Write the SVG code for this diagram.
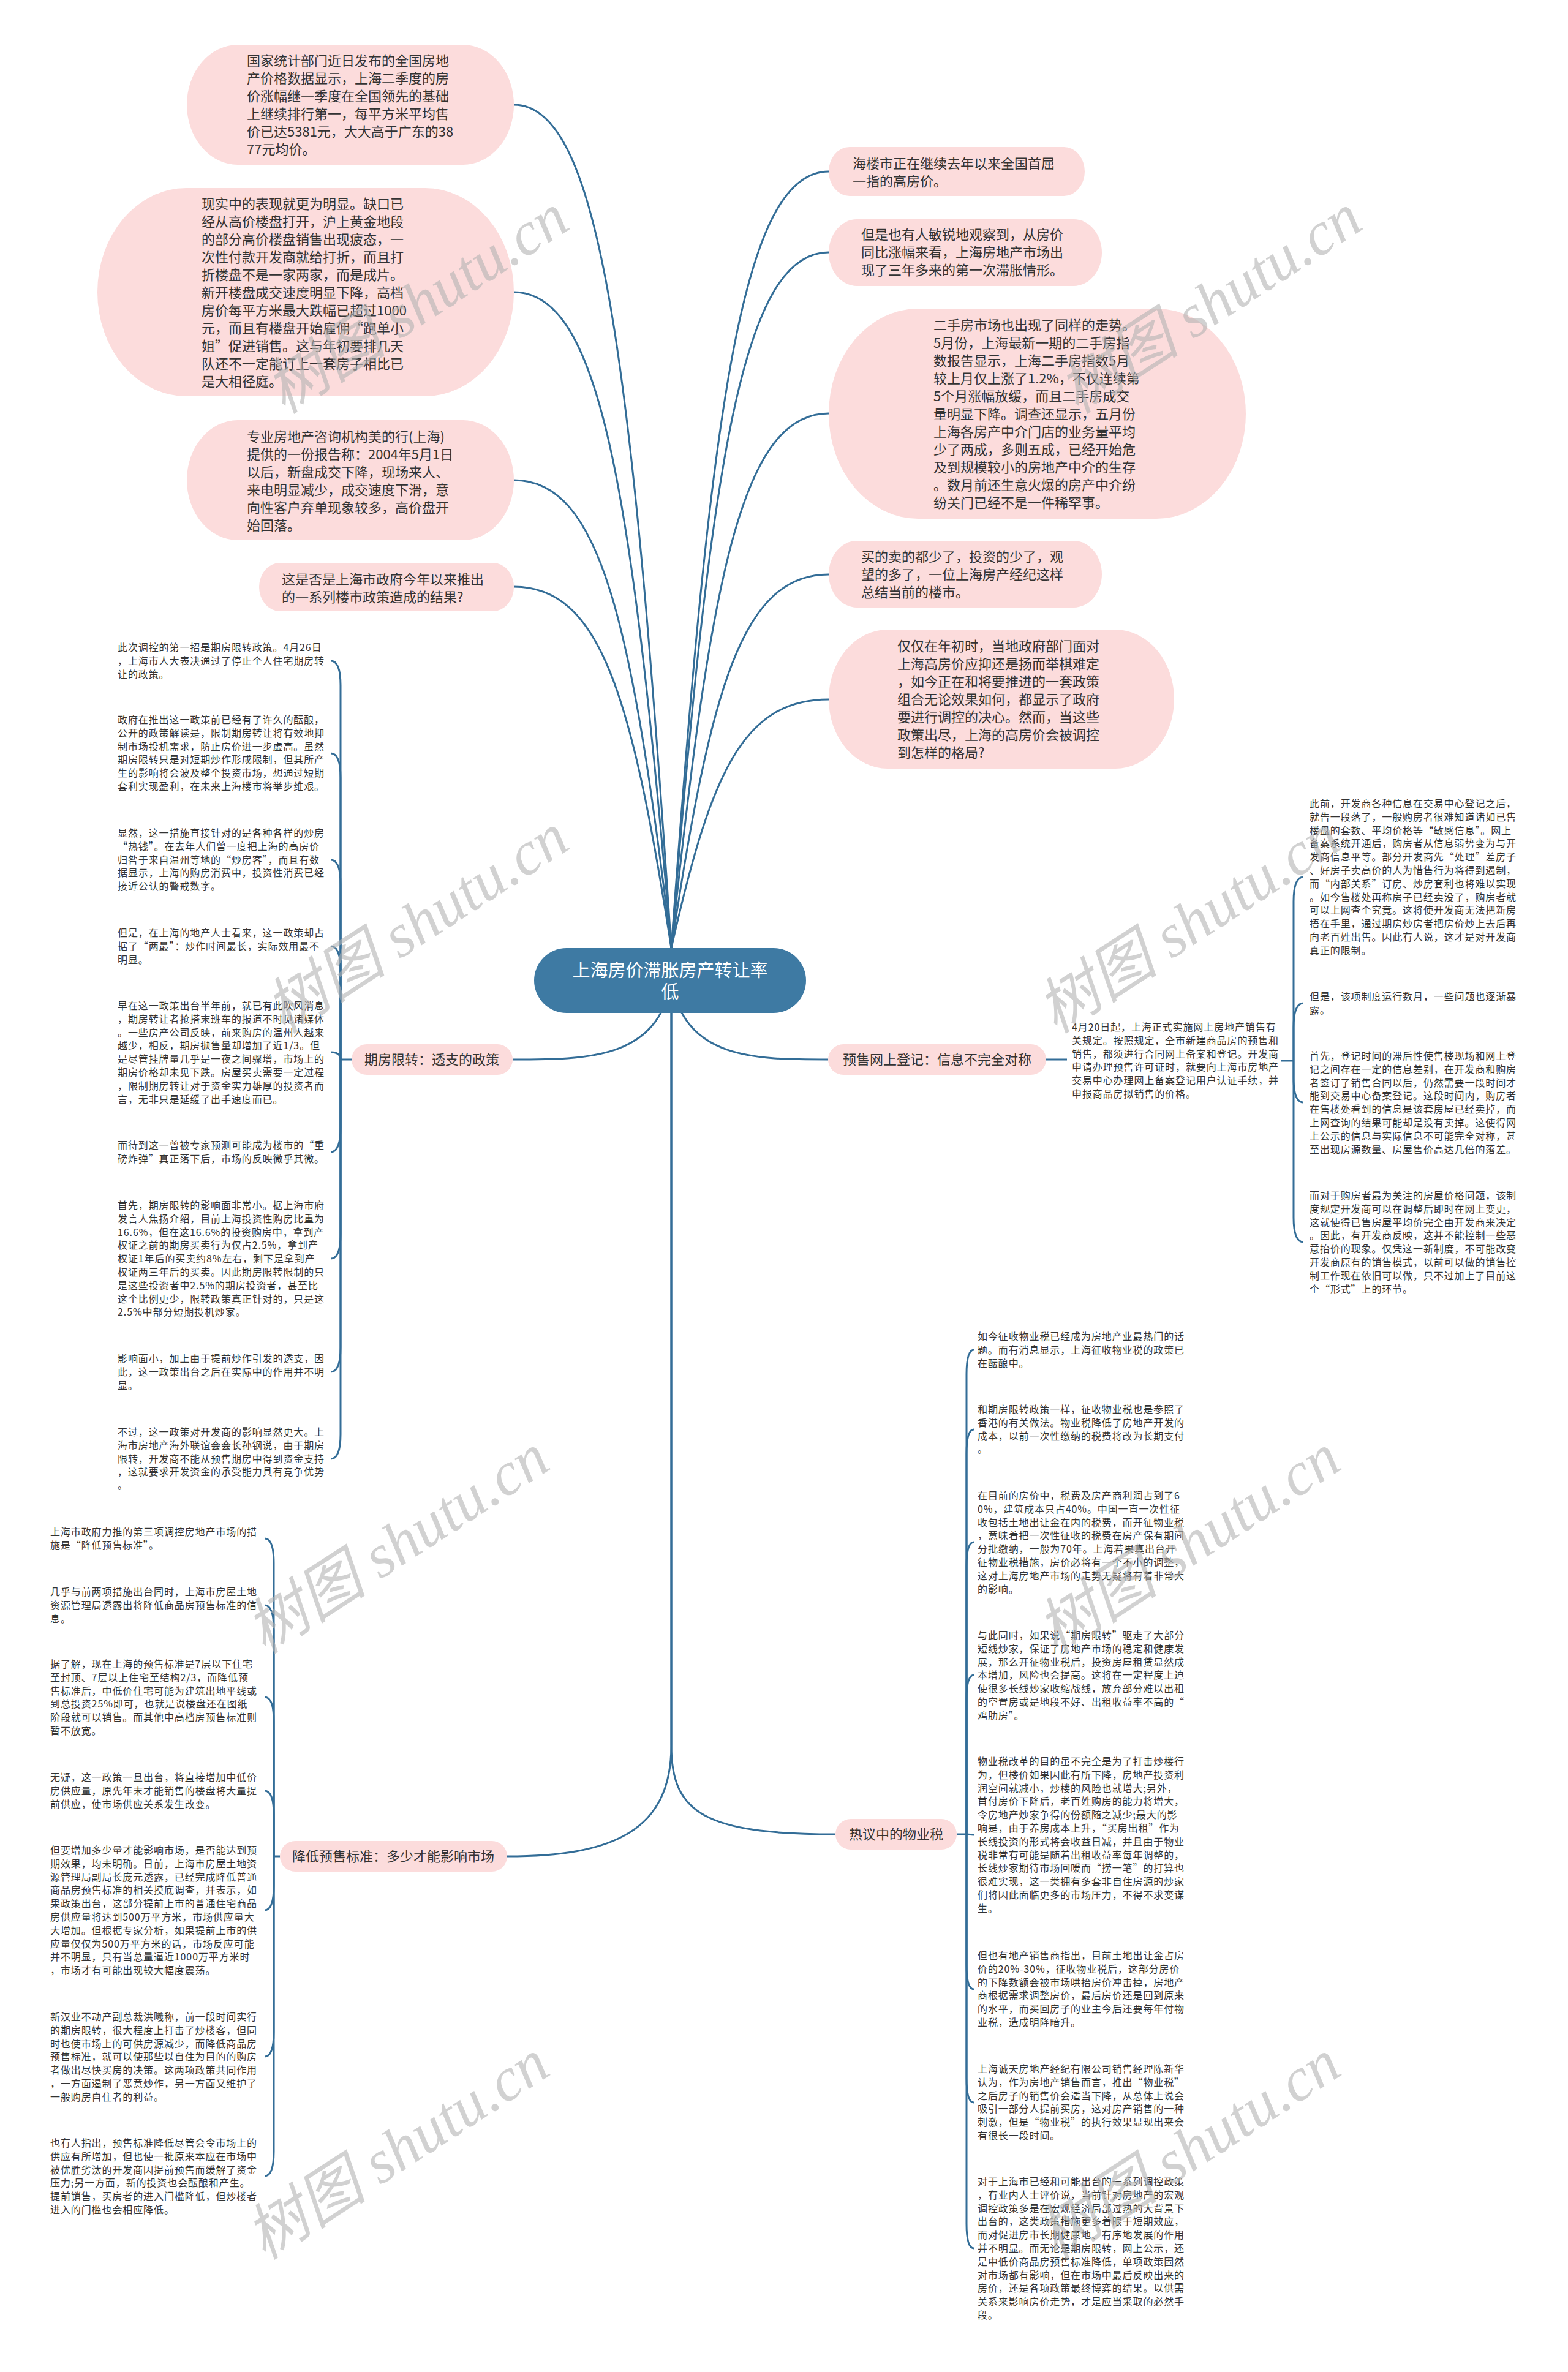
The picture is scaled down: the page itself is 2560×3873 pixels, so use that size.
<svg xmlns="http://www.w3.org/2000/svg" width="2560" height="3873" viewBox="0 0 2560 3873">
<style>
.bub{fill:#fcdcdc}
.t22{font-family:"Noto Sans CJK SC","Noto Sans",sans-serif;font-size:22px;fill:#333}
.t16{font-family:"Noto Sans CJK SC","Noto Sans",sans-serif;font-size:16px;letter-spacing:0.9px;fill:#333}
.lt{font-family:"Noto Sans CJK SC","Noto Sans",sans-serif;font-size:22px;fill:#333;text-anchor:middle}
.conn{fill:none;stroke:#336d97;stroke-width:3}
.wm{font-family:"Liberation Serif","Noto Sans CJK SC",serif;font-style:italic;font-size:100px;fill:#b4b4b4;opacity:0.6}
</style>
<rect width="2560" height="3873" fill="#ffffff"/>
<g id="connectors">
<path class="conn" d="M839,171 C980,171 1032,584 1096,1548"/>
<path class="conn" d="M839,477 C980,477 1032,798 1096,1548"/>
<path class="conn" d="M839,784 C980,784 1032,1013 1096,1548"/>
<path class="conn" d="M839,958 C980,958 1032,1135 1096,1548"/>
<path class="conn" d="M1353,280 C1212,280 1160,660 1096,1548"/>
<path class="conn" d="M1353,412 C1212,412 1160,753 1096,1548"/>
<path class="conn" d="M1353,675 C1212,675 1160,937 1096,1548"/>
<path class="conn" d="M1353,938 C1212,938 1160,1121 1096,1548"/>
<path class="conn" d="M1353,1142 C1212,1142 1160,1264 1096,1548"/>
<path class="conn" d="M1096,1601 C1075,1730 960,1730 837,1730"/>
<path class="conn" d="M1096,1601 C1117,1730 1232,1730 1352,1730"/>
<path class="conn" d="M1096,1601 L1096,2850 C1096,2960 1150,2995 1364,2995"/>
<path class="conn" d="M1096,1601 L1096,2850 C1096,2990 1000,3031 828,3031"/>
<path class="conn" d="M574,1730 L556,1730"/>
<path class="conn" d="M556,1730 L556,1119 Q556,1079 540,1079"/>
<path class="conn" d="M556,1730 L556,1270 Q556,1230 540,1230"/>
<path class="conn" d="M556,1730 L556,1444 Q556,1404 540,1404"/>
<path class="conn" d="M556,1730 L556,1585 Q556,1545 540,1545"/>
<path class="conn" d="M556,1730 Q556,1718 540,1718"/>
<path class="conn" d="M556,1730 L556,1841 Q556,1881 540,1881"/>
<path class="conn" d="M556,1730 L556,2015 Q556,2055 540,2055"/>
<path class="conn" d="M556,1730 L556,2200 Q556,2240 540,2240"/>
<path class="conn" d="M556,1730 L556,2342 Q556,2382 540,2382"/>
<path class="conn" d="M1708,1730 L1742,1730"/>
<path class="conn" d="M2092,1732 L2112,1732"/>
<path class="conn" d="M2112,1732 L2112,1472 Q2112,1432 2128,1432"/>
<path class="conn" d="M2112,1732 L2112,1678 Q2112,1638 2128,1638"/>
<path class="conn" d="M2112,1732 L2112,1760 Q2112,1800 2128,1800"/>
<path class="conn" d="M2112,1732 L2112,1988 Q2112,2028 2128,2028"/>
<path class="conn" d="M1562,2995 L1578,2995"/>
<path class="conn" d="M1578,2995 L1578,2244 Q1578,2204 1590,2204"/>
<path class="conn" d="M1578,2995 L1578,2374 Q1578,2334 1590,2334"/>
<path class="conn" d="M1578,2995 L1578,2558 Q1578,2518 1590,2518"/>
<path class="conn" d="M1578,2995 L1578,2775 Q1578,2735 1590,2735"/>
<path class="conn" d="M1578,2995 L1590,2996"/>
<path class="conn" d="M1578,2995 L1578,3208 Q1578,3248 1590,3248"/>
<path class="conn" d="M1578,2995 L1578,3393 Q1578,3433 1590,3433"/>
<path class="conn" d="M1578,2995 L1578,3631 Q1578,3671 1590,3671"/>
<path class="conn" d="M457,3031 L447,3031"/>
<path class="conn" d="M447,3031 L447,2552 Q447,2512 432,2512"/>
<path class="conn" d="M447,3031 L447,2661 Q447,2621 432,2621"/>
<path class="conn" d="M447,3031 L447,2811 Q447,2771 432,2771"/>
<path class="conn" d="M447,3031 L447,2964 Q447,2924 432,2924"/>
<path class="conn" d="M447,3031 L447,3079 Q447,3119 432,3119"/>
<path class="conn" d="M447,3031 L447,3318 Q447,3358 432,3358"/>
<path class="conn" d="M447,3031 L447,3513 Q447,3553 432,3553"/>
</g>
<g id="center">
<rect x="872" y="1548" width="444" height="106" rx="53" ry="53" fill="#3e7aa3"/>
<text x="1094" y="1595" font-family="Noto Sans CJK SC,sans-serif" font-size="29" fill="#ffffff" text-anchor="middle">上海房价滞胀房产转让率</text>
<text x="1094" y="1630" font-family="Noto Sans CJK SC,sans-serif" font-size="29" fill="#ffffff" text-anchor="middle">低</text>
</g>
<g id="b1"><rect class="bub" x="305" y="73" width="534" height="196" rx="83" ry="98"/>
<text class="t22" y="107"><tspan x="403">国家统计部门近日发布的全国房地</tspan><tspan x="403" dy="29">产价格数据显示，上海二季度的房</tspan><tspan x="403" dy="29">价涨幅继一季度在全国领先的基础</tspan><tspan x="403" dy="29">上继续排行第一，每平方米平均售</tspan><tspan x="403" dy="29">价已达5381元，大大高于广东的38</tspan><tspan x="403" dy="29">77元均价。</tspan></text></g>
<g id="b2"><rect class="bub" x="159" y="307" width="680" height="340" rx="145" ry="170"/>
<text class="t22" y="341"><tspan x="329">现实中的表现就更为明显。缺口已</tspan><tspan x="329" dy="29">经从高价楼盘打开，沪上黄金地段</tspan><tspan x="329" dy="29">的部分高价楼盘销售出现疲态，一</tspan><tspan x="329" dy="29">次性付款开发商就给打折，而且打</tspan><tspan x="329" dy="29">折楼盘不是一家两家，而是成片。</tspan><tspan x="329" dy="29">新开楼盘成交速度明显下降，高档</tspan><tspan x="329" dy="29">房价每平方米最大跌幅已超过1000</tspan><tspan x="329" dy="29">元，而且有楼盘开始雇佣“跑单小</tspan><tspan x="329" dy="29">姐”促进销售。这与年初要排几天</tspan><tspan x="329" dy="29">队还不一定能订上一套房子相比已</tspan><tspan x="329" dy="29">是大相径庭。</tspan></text></g>
<g id="b3"><rect class="bub" x="305" y="686" width="534" height="196" rx="83" ry="98"/>
<text class="t22" y="721"><tspan x="403">专业房地产咨询机构美的行(上海)</tspan><tspan x="403" dy="29">提供的一份报告称：2004年5月1日</tspan><tspan x="403" dy="29">以后，新盘成交下降，现场来人、</tspan><tspan x="403" dy="29">来电明显减少，成交速度下滑，意</tspan><tspan x="403" dy="29">向性客户弃单现象较多，高价盘开</tspan><tspan x="403" dy="29">始回落。</tspan></text></g>
<g id="b4"><rect class="bub" x="423" y="919" width="416" height="79" rx="34" ry="39.5"/>
<text class="t22" y="954"><tspan x="460">这是否是上海市政府今年以来推出</tspan><tspan x="460" dy="29">的一系列楼市政策造成的结果?</tspan></text></g>
<g id="r1"><rect class="bub" x="1353" y="240" width="418" height="80" rx="34" ry="40"/>
<text class="t22" y="275"><tspan x="1392">海楼市正在继续去年以来全国首屈</tspan><tspan x="1392" dy="29">一指的高房价。</tspan></text></g>
<g id="r2"><rect class="bub" x="1353" y="358" width="446" height="109" rx="46" ry="54.5"/>
<text class="t22" y="391"><tspan x="1406">但是也有人敏锐地观察到，从房价</tspan><tspan x="1406" dy="29">同比涨幅来看，上海房地产市场出</tspan><tspan x="1406" dy="29">现了三年多来的第一次滞胀情形。</tspan></text></g>
<g id="r3"><rect class="bub" x="1353" y="504" width="681" height="343" rx="146" ry="171.5"/>
<text class="t22" y="539"><tspan x="1524">二手房市场也出现了同样的走势。</tspan><tspan x="1524" dy="29">5月份，上海最新一期的二手房指</tspan><tspan x="1524" dy="29">数报告显示，上海二手房指数5月</tspan><tspan x="1524" dy="29">较上月仅上涨了1.2%，不仅连续第</tspan><tspan x="1524" dy="29">5个月涨幅放缓，而且二手房成交</tspan><tspan x="1524" dy="29">量明显下降。调查还显示，五月份</tspan><tspan x="1524" dy="29">上海各房产中介门店的业务量平均</tspan><tspan x="1524" dy="29">少了两成，多则五成，已经开始危</tspan><tspan x="1524" dy="29">及到规模较小的房地产中介的生存</tspan><tspan x="1524" dy="29">。数月前还生意火爆的房产中介纷</tspan><tspan x="1524" dy="29">纷关门已经不是一件稀罕事。</tspan></text></g>
<g id="r4"><rect class="bub" x="1353" y="883" width="446" height="109" rx="46" ry="54.5"/>
<text class="t22" y="917"><tspan x="1406">买的卖的都少了，投资的少了，观</tspan><tspan x="1406" dy="29">望的多了，一位上海房产经纪这样</tspan><tspan x="1406" dy="29">总结当前的楼市。</tspan></text></g>
<g id="r5"><rect class="bub" x="1353" y="1028" width="564" height="227" rx="96" ry="113.5"/>
<text class="t22" y="1063"><tspan x="1465">仅仅在年初时，当地政府部门面对</tspan><tspan x="1465" dy="29">上海高房价应抑还是扬而举棋难定</tspan><tspan x="1465" dy="29">，如今正在和将要推进的一套政策</tspan><tspan x="1465" dy="29">组合无论效果如何，都显示了政府</tspan><tspan x="1465" dy="29">要进行调控的决心。然而，当这些</tspan><tspan x="1465" dy="29">政策出尽，上海的高房价会被调控</tspan><tspan x="1465" dy="29">到怎样的格局?</tspan></text></g>
<g id="label-qifang"><rect class="bub" x="574" y="1705" width="263" height="50" rx="25"/>
<text class="lt" x="705" y="1738">期房限转：透支的政策</text></g>
<g id="label-yushou"><rect class="bub" x="1352" y="1705" width="356" height="50" rx="25"/>
<text class="lt" x="1530" y="1738">预售网上登记：信息不完全对称</text></g>
<g id="label-wuye"><rect class="bub" x="1364" y="2970" width="198" height="50" rx="25"/>
<text class="lt" x="1463" y="3003">热议中的物业税</text></g>
<g id="label-jiangdi"><rect class="bub" x="457" y="3006" width="371" height="50" rx="25"/>
<text class="lt" x="642" y="3039">降低预售标准：多少才能影响市场</text></g>
<g id="q1"><text class="t16" y="1063"><tspan x="192">此次调控的第一招是期房限转政策。4月26日</tspan><tspan x="192" dy="21.8">，上海市人大表决通过了停止个人住宅期房转</tspan><tspan x="192" dy="21.8">让的政策。</tspan></text></g>
<g id="q2"><text class="t16" y="1181"><tspan x="192">政府在推出这一政策前已经有了许久的酝酿，</tspan><tspan x="192" dy="21.8">公开的政策解读是，限制期房转让将有效地抑</tspan><tspan x="192" dy="21.8">制市场投机需求，防止房价进一步虚高。虽然</tspan><tspan x="192" dy="21.8">期房限转只是对短期炒作形成限制，但其所产</tspan><tspan x="192" dy="21.8">生的影响将会波及整个投资市场，想通过短期</tspan><tspan x="192" dy="21.8">套利实现盈利，在未来上海楼市将举步维艰。</tspan></text></g>
<g id="q3"><text class="t16" y="1366"><tspan x="192">显然，这一措施直接针对的是各种各样的炒房</tspan><tspan x="192" dy="21.8">“热钱”。在去年人们曾一度把上海的高房价</tspan><tspan x="192" dy="21.8">归咎于来自温州等地的“炒房客”，而且有数</tspan><tspan x="192" dy="21.8">据显示，上海的购房消费中，投资性消费已经</tspan><tspan x="192" dy="21.8">接近公认的警戒数字。</tspan></text></g>
<g id="q4"><text class="t16" y="1529"><tspan x="192">但是，在上海的地产人士看来，这一政策却占</tspan><tspan x="192" dy="21.8">据了“两最”：炒作时间最长，实际效用最不</tspan><tspan x="192" dy="21.8">明显。</tspan></text></g>
<g id="q5"><text class="t16" y="1648"><tspan x="192">早在这一政策出台半年前，就已有此吹风消息</tspan><tspan x="192" dy="21.8">，期房转让者抢搭末班车的报道不时见诸媒体</tspan><tspan x="192" dy="21.8">。一些房产公司反映，前来购房的温州人越来</tspan><tspan x="192" dy="21.8">越少，相反，期房抛售量却增加了近1/3。但</tspan><tspan x="192" dy="21.8">是尽管挂牌量几乎是一夜之间骤增，市场上的</tspan><tspan x="192" dy="21.8">期房价格却未见下跌。房屋买卖需要一定过程</tspan><tspan x="192" dy="21.8">，限制期房转让对于资金实力雄厚的投资者而</tspan><tspan x="192" dy="21.8">言，无非只是延缓了出手速度而已。</tspan></text></g>
<g id="q6"><text class="t16" y="1876"><tspan x="192">而待到这一曾被专家预测可能成为楼市的“重</tspan><tspan x="192" dy="21.8">磅炸弹”真正落下后，市场的反映微乎其微。</tspan></text></g>
<g id="q7"><text class="t16" y="1974"><tspan x="192">首先，期房限转的影响面非常小。据上海市府</tspan><tspan x="192" dy="21.8">发言人焦扬介绍，目前上海投资性购房比重为</tspan><tspan x="192" dy="21.8">16.6%，但在这16.6%的投资购房中，拿到产</tspan><tspan x="192" dy="21.8">权证之前的期房买卖行为仅占2.5%，拿到产</tspan><tspan x="192" dy="21.8">权证1年后的买卖约8%左右，剩下是拿到产</tspan><tspan x="192" dy="21.8">权证两三年后的买卖。因此期房限转限制的只</tspan><tspan x="192" dy="21.8">是这些投资者中2.5%的期房投资者，甚至比</tspan><tspan x="192" dy="21.8">这个比例更少，限转政策真正针对的，只是这</tspan><tspan x="192" dy="21.8">2.5%中部分短期投机炒家。</tspan></text></g>
<g id="q8"><text class="t16" y="2224"><tspan x="192">影响面小，加上由于提前炒作引发的透支，因</tspan><tspan x="192" dy="21.8">此，这一政策出台之后在实际中的作用并不明</tspan><tspan x="192" dy="21.8">显。</tspan></text></g>
<g id="q9"><text class="t16" y="2344"><tspan x="192">不过，这一政策对开发商的影响显然更大。上</tspan><tspan x="192" dy="21.8">海市房地产海外联谊会会长孙钢说，由于期房</tspan><tspan x="192" dy="21.8">限转，开发商不能从预售期房中得到资金支持</tspan><tspan x="192" dy="21.8">，这就要求开发资金的承受能力具有竞争优势</tspan><tspan x="192" dy="21.8">。</tspan></text></g>
<g id="y0"><text class="t16" y="1683"><tspan x="1750">4月20日起，上海正式实施网上房地产销售有</tspan><tspan x="1750" dy="21.8">关规定。按照规定，全市新建商品房的预售和</tspan><tspan x="1750" dy="21.8">销售，都须进行合同网上备案和登记。开发商</tspan><tspan x="1750" dy="21.8">申请办理预售许可证时，就要向上海市房地产</tspan><tspan x="1750" dy="21.8">交易中心办理网上备案登记用户认证手续，并</tspan><tspan x="1750" dy="21.8">申报商品房拟销售的价格。</tspan></text></g>
<g id="y1"><text class="t16" y="1318"><tspan x="2138">此前，开发商各种信息在交易中心登记之后，</tspan><tspan x="2138" dy="21.8">就告一段落了，一般购房者很难知道诸如已售</tspan><tspan x="2138" dy="21.8">楼盘的套数、平均价格等“敏感信息”。网上</tspan><tspan x="2138" dy="21.8">备案系统开通后，购房者从信息弱势变为与开</tspan><tspan x="2138" dy="21.8">发商信息平等。部分开发商先“处理”差房子</tspan><tspan x="2138" dy="21.8">、好房子卖高价的人为惜售行为将得到遏制，</tspan><tspan x="2138" dy="21.8">而“内部关系”订房、炒房套利也将难以实现</tspan><tspan x="2138" dy="21.8">。如今售楼处再称房子已经卖没了，购房者就</tspan><tspan x="2138" dy="21.8">可以上网查个究竟。这将使开发商无法把新房</tspan><tspan x="2138" dy="21.8">捂在手里，通过期房炒房者把房价炒上去后再</tspan><tspan x="2138" dy="21.8">向老百姓出售。因此有人说，这才是对开发商</tspan><tspan x="2138" dy="21.8">真正的限制。</tspan></text></g>
<g id="y2"><text class="t16" y="1633"><tspan x="2138">但是，该项制度运行数月，一些问题也逐渐暴</tspan><tspan x="2138" dy="21.8">露。</tspan></text></g>
<g id="y3"><text class="t16" y="1730"><tspan x="2138">首先，登记时间的滞后性使售楼现场和网上登</tspan><tspan x="2138" dy="21.8">记之间存在一定的信息差别，在开发商和购房</tspan><tspan x="2138" dy="21.8">者签订了销售合同以后，仍然需要一段时间才</tspan><tspan x="2138" dy="21.8">能到交易中心备案登记。这段时间内，购房者</tspan><tspan x="2138" dy="21.8">在售楼处看到的信息是该套房屋已经卖掉，而</tspan><tspan x="2138" dy="21.8">上网查询的结果可能却是没有卖掉。这使得网</tspan><tspan x="2138" dy="21.8">上公示的信息与实际信息不可能完全对称，甚</tspan><tspan x="2138" dy="21.8">至出现房源数量、房屋售价高达几倍的落差。</tspan></text></g>
<g id="y4"><text class="t16" y="1958"><tspan x="2138">而对于购房者最为关注的房屋价格问题，该制</tspan><tspan x="2138" dy="21.8">度规定开发商可以在调整后即时在网上变更，</tspan><tspan x="2138" dy="21.8">这就使得已售房屋平均价完全由开发商来决定</tspan><tspan x="2138" dy="21.8">。因此，有开发商反映，这并不能控制一些恶</tspan><tspan x="2138" dy="21.8">意抬价的现象。仅凭这一新制度，不可能改变</tspan><tspan x="2138" dy="21.8">开发商原有的销售模式，以前可以做的销售控</tspan><tspan x="2138" dy="21.8">制工作现在依旧可以做，只不过加上了目前这</tspan><tspan x="2138" dy="21.8">个“形式”上的环节。</tspan></text></g>
<g id="w1"><text class="t16" y="2188"><tspan x="1596">如今征收物业税已经成为房地产业最热门的话</tspan><tspan x="1596" dy="21.8">题。而有消息显示，上海征收物业税的政策已</tspan><tspan x="1596" dy="21.8">在酝酿中。</tspan></text></g>
<g id="w2"><text class="t16" y="2307"><tspan x="1596">和期房限转政策一样，征收物业税也是参照了</tspan><tspan x="1596" dy="21.8">香港的有关做法。物业税降低了房地产开发的</tspan><tspan x="1596" dy="21.8">成本，以前一次性缴纳的税费将改为长期支付</tspan><tspan x="1596" dy="21.8">。</tspan></text></g>
<g id="w3"><text class="t16" y="2448"><tspan x="1596">在目前的房价中，税费及房产商利润占到了6</tspan><tspan x="1596" dy="21.8">0%，建筑成本只占40%。中国一直一次性征</tspan><tspan x="1596" dy="21.8">收包括土地出让金在内的税费，而开征物业税</tspan><tspan x="1596" dy="21.8">，意味着把一次性征收的税费在房产保有期间</tspan><tspan x="1596" dy="21.8">分批缴纳，一般为70年。上海若果真出台开</tspan><tspan x="1596" dy="21.8">征物业税措施，房价必将有一个不小的调整，</tspan><tspan x="1596" dy="21.8">这对上海房地产市场的走势无疑将有着非常大</tspan><tspan x="1596" dy="21.8">的影响。</tspan></text></g>
<g id="w4"><text class="t16" y="2676"><tspan x="1596">与此同时，如果说“期房限转”驱走了大部分</tspan><tspan x="1596" dy="21.8">短线炒家，保证了房地产市场的稳定和健康发</tspan><tspan x="1596" dy="21.8">展，那么开征物业税后，投资房屋租赁显然成</tspan><tspan x="1596" dy="21.8">本增加，风险也会提高。这将在一定程度上迫</tspan><tspan x="1596" dy="21.8">使很多长线炒家收缩战线，放弃部分难以出租</tspan><tspan x="1596" dy="21.8">的空置房或是地段不好、出租收益率不高的“</tspan><tspan x="1596" dy="21.8">鸡肋房”。</tspan></text></g>
<g id="w5"><text class="t16" y="2882"><tspan x="1596">物业税改革的目的虽不完全是为了打击炒楼行</tspan><tspan x="1596" dy="21.8">为，但楼价如果因此有所下降，房地产投资利</tspan><tspan x="1596" dy="21.8">润空间就减小，炒楼的风险也就增大;另外，</tspan><tspan x="1596" dy="21.8">首付房价下降后，老百姓购房的能力将增大，</tspan><tspan x="1596" dy="21.8">令房地产炒家争得的份额随之减少;最大的影</tspan><tspan x="1596" dy="21.8">响是，由于养房成本上升，“买房出租”作为</tspan><tspan x="1596" dy="21.8">长线投资的形式将会收益日减，并且由于物业</tspan><tspan x="1596" dy="21.8">税非常有可能是随着出租收益率每年调整的，</tspan><tspan x="1596" dy="21.8">长线炒家期待市场回暖而“捞一笔”的打算也</tspan><tspan x="1596" dy="21.8">很难实现，这一类拥有多套非自住房源的炒家</tspan><tspan x="1596" dy="21.8">们将因此面临更多的市场压力，不得不求变谋</tspan><tspan x="1596" dy="21.8">生。</tspan></text></g>
<g id="w6"><text class="t16" y="3199"><tspan x="1596">但也有地产销售商指出，目前土地出让金占房</tspan><tspan x="1596" dy="21.8">价的20%-30%，征收物业税后，这部分房价</tspan><tspan x="1596" dy="21.8">的下降数额会被市场哄抬房价冲击掉，房地产</tspan><tspan x="1596" dy="21.8">商根据需求调整房价，最后房价还是回到原来</tspan><tspan x="1596" dy="21.8">的水平，而买回房子的业主今后还要每年付物</tspan><tspan x="1596" dy="21.8">业税，造成明降暗升。</tspan></text></g>
<g id="w7"><text class="t16" y="3384"><tspan x="1596">上海诚天房地产经纪有限公司销售经理陈新华</tspan><tspan x="1596" dy="21.8">认为，作为房地产销售而言，推出“物业税”</tspan><tspan x="1596" dy="21.8">之后房子的销售价会适当下降，从总体上说会</tspan><tspan x="1596" dy="21.8">吸引一部分人提前买房，这对房产销售的一种</tspan><tspan x="1596" dy="21.8">刺激，但是“物业税”的执行效果显现出来会</tspan><tspan x="1596" dy="21.8">有很长一段时间。</tspan></text></g>
<g id="w8"><text class="t16" y="3568"><tspan x="1596">对于上海市已经和可能出台的一系列调控政策</tspan><tspan x="1596" dy="21.8">，有业内人士评价说，当前针对房地产的宏观</tspan><tspan x="1596" dy="21.8">调控政策多是在宏观经济局部过热的大背景下</tspan><tspan x="1596" dy="21.8">出台的，这类政策措施更多着眼于短期效应，</tspan><tspan x="1596" dy="21.8">而对促进房市长期健康地、有序地发展的作用</tspan><tspan x="1596" dy="21.8">并不明显。而无论是期房限转，网上公示，还</tspan><tspan x="1596" dy="21.8">是中低价商品房预售标准降低，单项政策固然</tspan><tspan x="1596" dy="21.8">对市场都有影响，但在市场中最后反映出来的</tspan><tspan x="1596" dy="21.8">房价，还是各项政策最终博弈的结果。以供需</tspan><tspan x="1596" dy="21.8">关系来影响房价走势，才是应当采取的必然手</tspan><tspan x="1596" dy="21.8">段。</tspan></text></g>
<g id="l1"><text class="t16" y="2507"><tspan x="82">上海市政府力推的第三项调控房地产市场的措</tspan><tspan x="82" dy="21.8">施是“降低预售标准”。</tspan></text></g>
<g id="l2"><text class="t16" y="2605"><tspan x="82">几乎与前两项措施出台同时，上海市房屋土地</tspan><tspan x="82" dy="21.8">资源管理局透露出将降低商品房预售标准的信</tspan><tspan x="82" dy="21.8">息。</tspan></text></g>
<g id="l3"><text class="t16" y="2723"><tspan x="82">据了解，现在上海的预售标准是7层以下住宅</tspan><tspan x="82" dy="21.8">至封顶、7层以上住宅至结构2/3，而降低预</tspan><tspan x="82" dy="21.8">售标准后，中低价住宅可能为建筑出地平线或</tspan><tspan x="82" dy="21.8">到总投资25%即可，也就是说楼盘还在图纸</tspan><tspan x="82" dy="21.8">阶段就可以销售。而其他中高档房预售标准则</tspan><tspan x="82" dy="21.8">暂不放宽。</tspan></text></g>
<g id="l4"><text class="t16" y="2908"><tspan x="82">无疑，这一政策一旦出台，将直接增加中低价</tspan><tspan x="82" dy="21.8">房供应量，原先年末才能销售的楼盘将大量提</tspan><tspan x="82" dy="21.8">前供应，使市场供应关系发生改变。</tspan></text></g>
<g id="l5"><text class="t16" y="3027"><tspan x="82">但要增加多少量才能影响市场，是否能达到预</tspan><tspan x="82" dy="21.8">期效果，均未明确。日前，上海市房屋土地资</tspan><tspan x="82" dy="21.8">源管理局副局长庞元透露，已经完成降低普通</tspan><tspan x="82" dy="21.8">商品房预售标准的相关摸底调查，并表示，如</tspan><tspan x="82" dy="21.8">果政策出台，这部分提前上市的普通住宅商品</tspan><tspan x="82" dy="21.8">房供应量将达到500万平方米，市场供应量大</tspan><tspan x="82" dy="21.8">大增加。但根据专家分析，如果提前上市的供</tspan><tspan x="82" dy="21.8">应量仅仅为500万平方米的话，市场反应可能</tspan><tspan x="82" dy="21.8">并不明显，只有当总量逼近1000万平方米时</tspan><tspan x="82" dy="21.8">，市场才有可能出现较大幅度震荡。</tspan></text></g>
<g id="l6"><text class="t16" y="3299"><tspan x="82">新汉业不动产副总裁洪曦称，前一段时间实行</tspan><tspan x="82" dy="21.8">的期房限转，很大程度上打击了炒楼客，但同</tspan><tspan x="82" dy="21.8">时也使市场上的可供房源减少，而降低商品房</tspan><tspan x="82" dy="21.8">预售标准，就可以使那些以自住为目的的购房</tspan><tspan x="82" dy="21.8">者做出尽快买房的决策。这两项政策共同作用</tspan><tspan x="82" dy="21.8">，一方面遏制了恶意炒作，另一方面又维护了</tspan><tspan x="82" dy="21.8">一般购房自住者的利益。</tspan></text></g>
<g id="l7"><text class="t16" y="3505"><tspan x="82">也有人指出，预售标准降低尽管会令市场上的</tspan><tspan x="82" dy="21.8">供应有所增加，但也使一批原来本应在市场中</tspan><tspan x="82" dy="21.8">被优胜劣汰的开发商因提前预售而缓解了资金</tspan><tspan x="82" dy="21.8">压力;另一方面，新的投资也会酝酿和产生。</tspan><tspan x="82" dy="21.8">提前销售，买房者的进入门槛降低，但炒楼者</tspan><tspan x="82" dy="21.8">进入的门槛也会相应降低。</tspan></text></g>
<g id="watermarks">
<text class="wm" x="680" y="530" text-anchor="middle" transform="rotate(-33 680 495)">树图 shutu.cn</text>
<text class="wm" x="1975" y="530" text-anchor="middle" transform="rotate(-33 1975 495)">树图 shutu.cn</text>
<text class="wm" x="680" y="1542" text-anchor="middle" transform="rotate(-33 680 1507)">树图 shutu.cn</text>
<text class="wm" x="1940" y="1542" text-anchor="middle" transform="rotate(-33 1940 1507)">树图 shutu.cn</text>
<text class="wm" x="648" y="2555" text-anchor="middle" transform="rotate(-33 648 2520)">树图 shutu.cn</text>
<text class="wm" x="1940" y="2555" text-anchor="middle" transform="rotate(-33 1940 2520)">树图 shutu.cn</text>
<text class="wm" x="648" y="3544" text-anchor="middle" transform="rotate(-33 648 3509)">树图 shutu.cn</text>
<text class="wm" x="1940" y="3544" text-anchor="middle" transform="rotate(-33 1940 3509)">树图 shutu.cn</text>
</g>
</svg>
